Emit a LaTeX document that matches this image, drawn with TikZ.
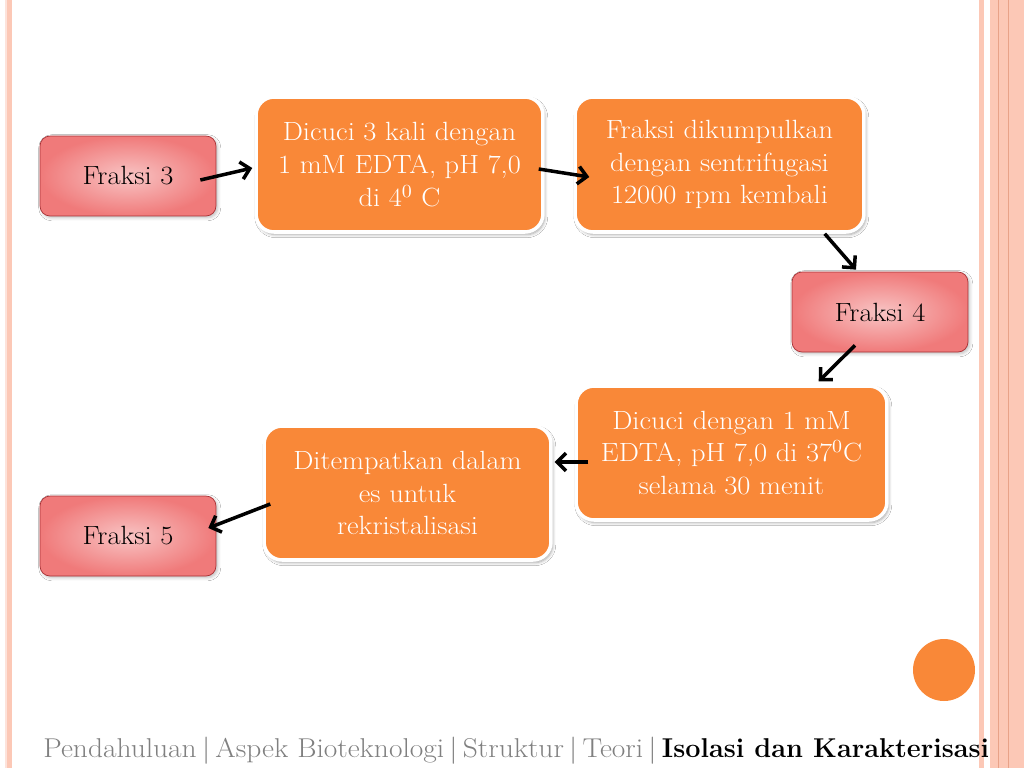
\documentclass[tikz,border=0pt]{standalone}
\usepackage{graphicx}
\usepackage{fontspec}
\setmainfont{Latin Modern Roman}[FakeStretch=1.08]
\usetikzlibrary{arrows.meta,shadows.blur}

\definecolor{stepfill}{HTML}{F98838}
\definecolor{fraksiin}{HTML}{F8C4C4}
\definecolor{fraksiout}{HTML}{F07A7A}
\definecolor{fraksiedge}{HTML}{A83034}
\definecolor{stripe}{HTML}{FCC8B6}
\definecolor{stripeline}{HTML}{E8A288}
\definecolor{footgray}{HTML}{808080}

\begin{document}
\begin{tikzpicture}[
    x=0.02cm, y=-0.02cm,
    stepbox/.style={draw=white, line width=2pt, rectangle, rounded corners=0.36cm, align=center,
        fill=stepfill, text=white, font=\fontsize{15}{18.7}\selectfont,
        minimum height=2.7cm, blur shadow={shadow xshift=1pt, shadow yshift=-1.5pt, shadow opacity=35, shadow blur steps=6}},
    fraksi/.style={draw=fraksiedge, thin, rectangle, rounded corners=0.2cm, align=center,
        inner color=fraksiin, outer color=fraksiout, font=\fontsize{15}{18.7}\selectfont,
        minimum width=3.52cm, minimum height=1.6cm, blur shadow={shadow xshift=1pt, shadow yshift=-1pt, shadow opacity=25, shadow blur steps=4}},
    arrow/.style={-{Straight Barb[length=5pt, width=10pt]}, line width=2pt}
]

% Background and side stripes
\fill[white] (0,0) rectangle (1024,768);
\useasboundingbox (0,0) rectangle (1024,768);
\fill[stripe!50] (5,0) rectangle (7,768);
\fill[stripe] (7,0) rectangle (12,768);
\fill[stripe] (979,0) rectangle (984,768);
\fill[stripe] (990,0) rectangle (1024,768);
\draw[stripeline] (998,0) -- (998,768);
\draw[stripeline] (1008,0) -- (1008,768);
\fill[stepfill] (944,670) circle[radius=0.62cm];

% Nodes
\node[fraksi] (f3) at (128,176) {Fraksi 3};
\node[stepbox, minimum width=5.74cm] (cuci1) at (399.5,164.5) {Dicuci 3 kali dengan\\1 mM EDTA, pH 7,0\\di 4\textsuperscript{0} C};
\node[stepbox, minimum width=5.78cm] (kumpul) at (719.5,164.5) {Fraksi dikumpulkan\\dengan sentrifugasi\\12000 rpm kembali};
\node[fraksi] (f4) at (880,312) {Fraksi 4};
\node[stepbox, minimum width=6.22cm, minimum height=2.68cm] (cuci2) at (731.5,453) {Dicuci dengan 1 mM\\EDTA, pH 7,0 di 37\textsuperscript{0}C\\selama 30 menit};
\node[stepbox, minimum width=5.74cm, minimum height=2.68cm] (es) at (407.5,493) {Ditempatkan dalam\\es untuk\\rekristalisasi};
\node[fraksi] (f5) at (128,536) {Fraksi 5};

% Arrows
\draw[arrow] ([shift={(-16,4)}]f3.east) -- ([shift={(-2,3.5)}]cuci1.west);
\draw[arrow] ([shift={(-6,4.5)}]cuci1.east) -- ([shift={(16,12.5)}]kumpul.west);
\draw[arrow] ([shift={(-41,0)}]kumpul.south east) -- ([shift={(-24,-2)}]f4.north);
\draw[arrow] ([shift={(-25,-7)}]f4.south) -- ([shift={(-70,-3)}]cuci2.north east);
\draw[arrow] ([shift={(14,9)}]cuci2.west) -- ([shift={(2,-31)}]es.east);
\draw[arrow] ([shift={(8,11)}]es.west) -- ([shift={(-8,-8)}]f5.east);

% Footer
\node[anchor=base west, inner sep=0pt, font=\fontsize{15.5}{18}\selectfont] (footer) at (43,757)
  {{\color{footgray}Pendahuluan\kern3pt|\kern3pt Aspek Bioteknologi\kern3pt|\kern3pt Struktur\kern3pt|\kern3pt Teori\kern3pt|\kern3pt}\scalebox{0.92}[1]{\textbf{Isolasi dan Karakterisasi}}};

\end{tikzpicture}
\end{document}
